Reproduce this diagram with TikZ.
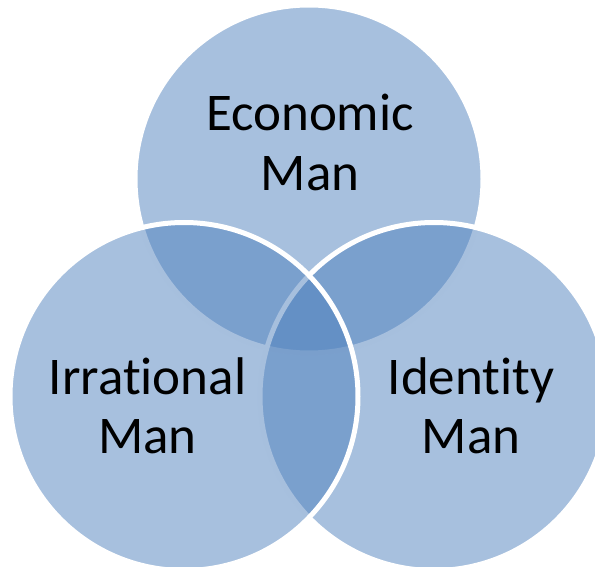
\documentclass[tikz,border=0pt]{standalone}
\usepackage{fontspec}
\setmainfont[RawFeature={-liga;-clig}]{Carlito}
\definecolor{accent}{HTML}{4F81BD}
\tikzset{
  lbl/.style={font=\fontsize{53}{59.5}\selectfont,align=center,text=black,inner sep=0pt},
  venn/.style={circle,minimum size=348pt,inner sep=0pt,draw=white,line width=5pt,fill=accent,fill opacity=0.5,draw opacity=1}
}
\begin{document}
\begin{tikzpicture}[x=1pt,y=-1pt]
\useasboundingbox (0,0) rectangle (595,567);
\clip (0,0) rectangle (595,567);
\node[venn] (a) at (309,179) {};
\node[venn] (c) at (434,396.5) {};
\node[venn] (b) at (184,396.5) {};
\node[lbl] (econ) at (310,142.5) {Economic\\Man};
\node[lbl] (irr) at (147.5,406) {Irrational\\Man};
\node[lbl] (ident) at (471,406) {Identity\\Man};
\end{tikzpicture}
\end{document}
